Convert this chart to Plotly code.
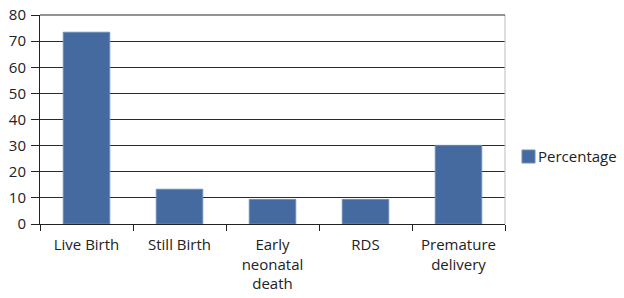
import plotly.graph_objects as go

categories = ["Live Birth", "Still Birth", "Early<br>neonatal<br>death", "RDS", "Premature<br>delivery"]
percentage = [73.4, 13.3, 9.4, 9.4, 30.1]
series_name = "Percentage"
y_ticks = [0, 10, 20, 30, 40, 50, 60, 70, 80]

bar_color = "#446AA0"

fig = go.Figure()
fig.add_trace(go.Bar(
    x=categories, y=percentage, name=series_name,
    marker=dict(color=bar_color, line=dict(color="#6A8CBB", width=1)),
    showlegend=False,
))

font_family = "Open Sans, Liberation Sans, sans-serif"
fig.update_layout(
    width=624, height=298,
    margin=dict(l=40, r=119, t=15, b=74, autoexpand=False),
    paper_bgcolor="white", plot_bgcolor="white",
    bargap=0.5,
    font=dict(family=font_family, size=15, color="#222222"),
    showlegend=False,
    xaxis=dict(
        type="category", showline=True, linecolor="#222222", linewidth=1,
        ticks="outside", tickson="boundaries", ticklen=6, tickcolor="#222222",
        showgrid=False, automargin=False, tickfont=dict(size=15),
        ticklabelstandoff=7,
    ),
    yaxis=dict(
        range=[0, 80], tickvals=y_ticks, showline=True, linecolor="#222222", linewidth=1,
        ticks="outside", ticklen=8, tickcolor="#222222",
        showgrid=True, gridcolor="#2a2a2a", gridwidth=1.2, zeroline=False,
        tickfont=dict(size=15), automargin=False, ticklabelstandoff=2,
    ),
)
# light right border of plot area
fig.add_shape(type="line", xref="paper", yref="paper", x0=1, x1=1, y0=0, y1=1,
              line=dict(color="#BBBBBB", width=1))
# dark top border (gridline at 80)
fig.add_shape(type="line", xref="paper", yref="paper", x0=0, x1=1, y0=1, y1=1,
              line=dict(color="#2a2a2a", width=1.2))

# legend key (square + label)
fig.add_shape(type="rect", xref="paper", yref="paper",
              x0=(522 - 40) / 465, x1=(535 - 40) / 465,
              y0=(224 - 163) / 209, y1=(224 - 150) / 209,
              fillcolor=bar_color, line=dict(color="#6A8CBB", width=1))
fig.add_annotation(text=series_name, xref="paper", yref="paper",
                   x=(536 - 40) / 465, y=(224 - 156.5) / 209,
                   xanchor="left", yanchor="middle", showarrow=False,
                   font=dict(size=15, color="#222222"))

fig.write_html("out.html", config={"displayModeBar": False},
               post_script="document.body.style.margin='0';")
